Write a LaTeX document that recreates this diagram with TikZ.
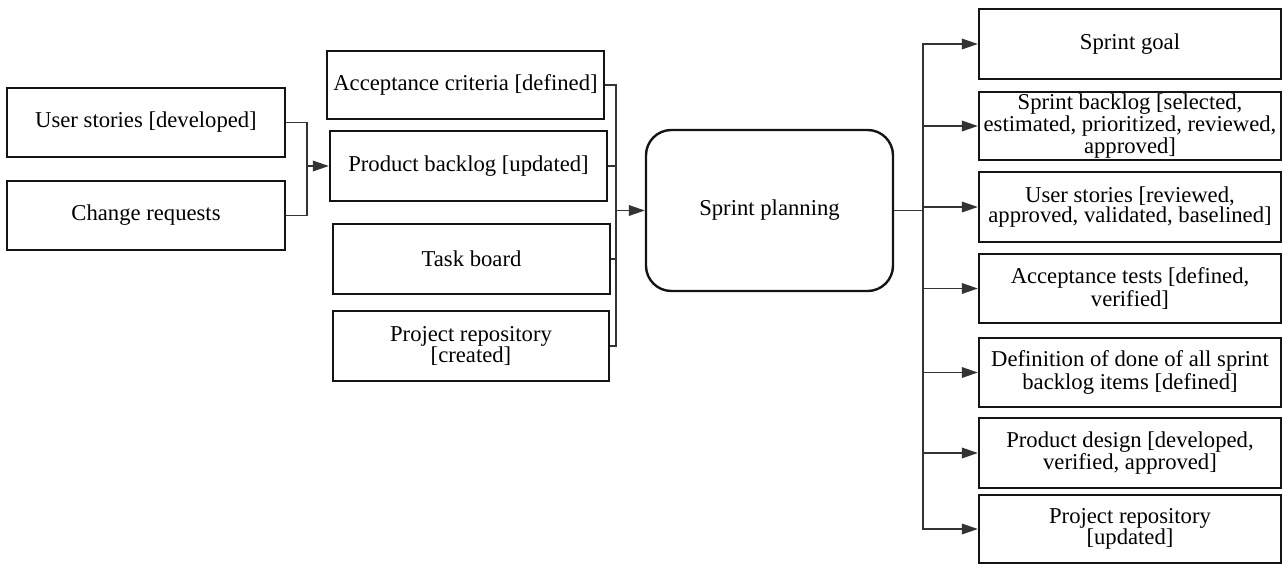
\documentclass[tikz,border=0pt]{standalone}
\usepackage{fontspec}
\setmainfont{Liberation Serif}
\usetikzlibrary{arrows.meta}

% Box by its corners: name, x1, y1, x2, y2, text
\newcommand\cornerbox[7][]{%
  \node[box,#1, minimum width={(#5-#3)*0.75pt}, minimum height={(#6-#4)*0.75pt}]
    (#2) at ({(#3+#5)/2},{(#4+#6)/2}) {#7};}

\begin{document}
\begin{tikzpicture}[x=0.75pt,y=-0.75pt,
  box/.style={draw=black!92, line width=1.8pt, align=center, inner sep=1pt,
    font=\fontsize{17}{15.5}\selectfont},
  tight/.style={font=\fontsize{17}{13.5}\selectfont},
  roundbox/.style={rounded corners=19pt},
  conn/.style={draw=black!80, line width=1pt},
  arr/.style={conn, -{Triangle[length=12pt,width=8pt]}},
]
\useasboundingbox (0,0) rectangle (1283,565);

% inputs
\cornerbox{us}{7}{88}{285}{157}{User stories [developed]}
\cornerbox{cr}{7}{181}{285}{250}{Change requests}

\cornerbox{ac}{327}{51}{604}{119}{Acceptance criteria [defined]}
\cornerbox{pb}{330}{131}{607}{201}{Product backlog [updated]}
\cornerbox{tb}{333}{224}{610}{294}{Task board}
\cornerbox{prc}{333}{311}{609}{381}{Project repository\\{[created]}}

% process
\cornerbox[roundbox]{sp}{646}{130}{893}{291}{Sprint planning}

% outputs
\cornerbox{g1}{979}{9}{1281}{79}{Sprint goal}
\cornerbox[tight]{g2}{979}{92}{1281}{160}{Sprint backlog [selected,\\estimated, prioritized, reviewed,\\approved]}
\cornerbox{g3}{979}{172}{1281}{242}{User stories [reviewed,\\approved, validated, baselined]}
\cornerbox{g4}{979}{254}{1281}{323}{Acceptance tests [defined,\\verified]}
\cornerbox{g5}{979}{338}{1281}{407}{Definition of done of all sprint\\backlog items [defined]}
\cornerbox{g6}{979}{418}{1281}{488}{Product design [developed,\\verified, approved]}
\cornerbox{g7}{979}{495}{1281}{563}{Project repository\\{[updated]}}

% junction points
\coordinate (jL) at (307,166);
\coordinate (jM) at (616,210.5);
\coordinate (jR) at (923,210.5);

% connectors
\draw[conn] (us.east) -| (jL);
\draw[conn] (cr.east) -| (jL);
\draw[arr] (jL) -- (pb.west);

\foreach \n in {ac,pb,tb,prc} \draw[conn] (\n.east) -| (jM);
\draw[arr] (jM) -- (sp.west);

\draw[conn] (sp.east) -- (jR);
\foreach \n in {g1,g2,g3,g4,g5,g6,g7} \draw[arr] (jR) |- (\n.west);
\end{tikzpicture}
\end{document}
